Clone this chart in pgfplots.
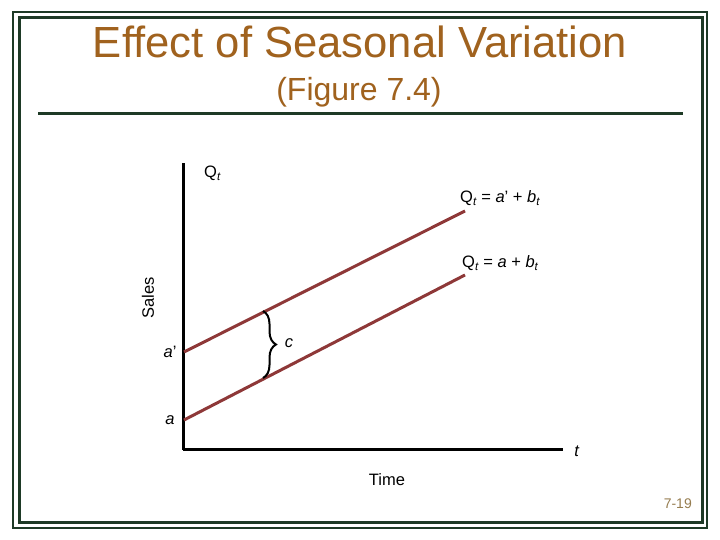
\documentclass[border=0pt]{standalone}
\usepackage{fontspec}
\setmainfont{Liberation Sans}
\usepackage{pgfplots}
\pgfplotsset{compat=1.18}
\usetikzlibrary{decorations.pathreplacing}
\definecolor{border}{RGB}{30,58,38}
\definecolor{titlecol}{RGB}{160,98,30}
\definecolor{pagecol}{RGB}{150,125,80}
\definecolor{linecol}{RGB}{142,56,56}
\newcommand{\sub}[1]{\textsubscript{\itshape #1}}
\begin{document}
\begin{tikzpicture}[x=1bp,y=1bp]
\useasboundingbox (0,0) rectangle (720,540);
\fill[white] (0,0) rectangle (720,540);
\draw[border, line width=1.5bp] (13,12) rectangle (707,528);
\draw[border, line width=3bp] (19,17) rectangle (702,522);
\draw[border, line width=3bp] (38,426) -- (683,426);
\node[anchor=base, text=titlecol, font=\fontsize{43.6bp}{48bp}\selectfont, inner sep=0pt] at (360,482) {Effect of Seasonal Variation};
\node[anchor=base, text=titlecol, font=\fontsize{32bp}{36bp}\selectfont, inner sep=0pt] at (359,439) {(Figure 7.4)};
\node[anchor=base east, text=pagecol, font=\fontsize{14bp}{16bp}\selectfont, inner sep=0pt] at (692,31) {7-19};
\begin{axis}[
  at={(183bp,90bp)}, anchor=south west,
  width=380bp, height=287bp, scale only axis,
  xmin=183, xmax=563, ymin=90, ymax=377,
  axis lines=left,
  axis line style={-, line width=3bp, black},
  x axis line style={-}, y axis line style={-},
  xtick=\empty, ytick=\empty,
  clip=false,
  font=\fontsize{16.5bp}{19bp}\selectfont,
]
\addplot[linecol, line width=3bp] coordinates {(184,188) (465,329)};
\addplot[linecol, line width=3bp] coordinates {(184,120) (465,265)};
\draw[decorate, decoration={brace, amplitude=13bp}, line width=2bp] (axis cs:263,229) -- (axis cs:263,162);
\node[anchor=base west, inner sep=0pt] at (axis cs:204,362) {Q\sub{t}};
\node[anchor=base west, inner sep=0pt] at (axis cs:460,337) {Q\sub{t} = \textit{a}' + \textit{b}\sub{t}};
\node[anchor=base west, inner sep=0pt] at (axis cs:462,272) {Q\sub{t} = \textit{a} + \textit{b}\sub{t}};
\node[inner sep=0pt] at (axis cs:170,188) {\textit{a}'};
\node[inner sep=0pt] at (axis cs:170,120) {\textit{a}};
\node[inner sep=0pt] at (axis cs:289,197) {\textit{c}};
\node[inner sep=0pt] at (axis cs:577,89) {\textit{t}};
\node[inner sep=0pt] at (axis cs:387,60) {Time};
\node[inner sep=0pt, rotate=90] at (axis cs:148,242) {Sales};
\end{axis}
\end{tikzpicture}
\end{document}
